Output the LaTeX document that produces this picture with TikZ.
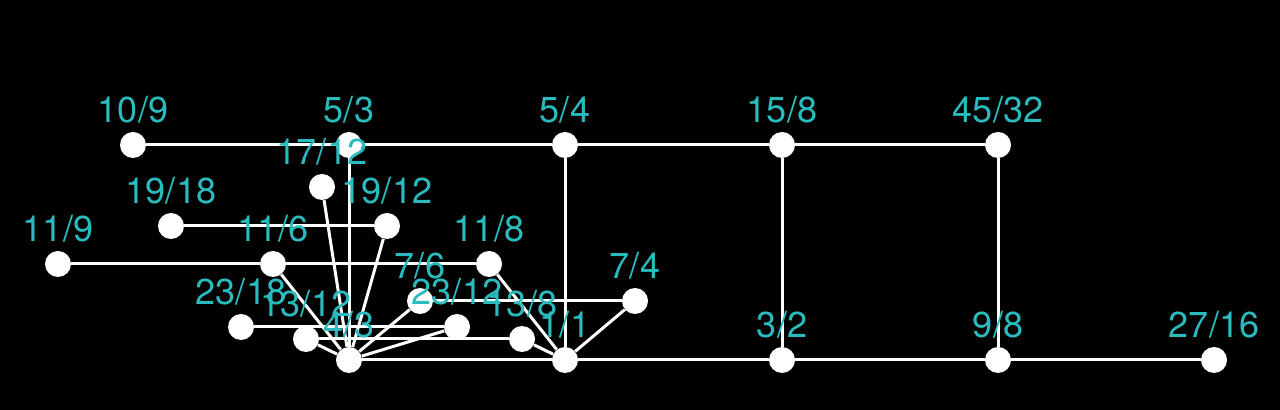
\documentclass[tikz,border=0pt]{standalone}
\usepackage{fontspec}
\setmainfont{TeX Gyre Heros}
\usetikzlibrary{backgrounds}
\definecolor{tone}{RGB}{42,187,190}

\begin{document}
\begin{tikzpicture}[
		ratio/.style={circle, fill=white, inner sep=0pt, minimum size=0.52cm},
		lab/.style={text=tone, inner sep=0pt, font=\fontsize{20.5}{24}\selectfont},
		every label/.style={lab},
		label distance=0.17cm,
		link/.style={draw=white, line width=0.06cm}]
			% lattice of ratios
			\node[ratio, label=above:{10/9}] (n109) at (2.66,5.30) {};
			\node[ratio, label=above:{5/3}] (n53) at (6.98,5.30) {};
			\node[ratio, label=above:{5/4}] (n54) at (11.30,5.30) {};
			\node[ratio, label=above:{15/8}] (n158) at (15.64,5.30) {};
			\node[ratio, label=above:{45/32}] (n4532) at (19.96,5.30) {};
			\node[ratio, label=above:{17/12}] (n1712) at (6.44,4.46) {};
			\node[ratio, label=above:{19/18}] (n1918) at (3.42,3.68) {};
			\node[ratio, label=above:{19/12}] (n1912) at (7.74,3.68) {};
			\node[ratio, label=above:{11/9}] (n119) at (1.16,2.92) {};
			\node[ratio, label=above:{11/6}] (n116) at (5.46,2.92) {};
			\node[ratio, label=above:{11/8}] (n118) at (9.78,2.92) {};
			\node[ratio, label=above:{7/6}] (n76) at (8.40,2.18) {};
			\node[ratio, label=above:{7/4}] (n74) at (12.70,2.18) {};
			\node[ratio, label=above:{23/18}] (n2318) at (4.82,1.66) {};
			\node[ratio, label=above:{23/12}] (n2312) at (9.14,1.66) {};
			\node[ratio, label=above:{13/12}] (n1312) at (6.12,1.42) {};
			\node[ratio, label=above:{13/8}] (n138) at (10.44,1.42) {};
			\node[ratio, label=above:{4/3}] (n43) at (6.98,1.00) {};
			\node[ratio, label=above:{1/1}] (n11) at (11.30,1.00) {};
			\node[ratio, label=above:{3/2}] (n32) at (15.64,1.00) {};
			\node[ratio, label=above:{9/8}] (n98) at (19.96,1.00) {};
			\node[ratio, label=above:{27/16}] (n2716) at (24.28,1.00) {};

			\begin{pgfonlayer}{background}
			\fill[black] (0,0) rectangle (25.6,8.2);
			\draw[link] (n109) -- (n53) -- (n54) -- (n158) -- (n4532);
			\draw[link] (n43) -- (n11) -- (n32) -- (n98) -- (n2716);
			\draw[link] (n54) -- (n11);
			\draw[link] (n158) -- (n32);
			\draw[link] (n4532) -- (n98);
			\draw[link] (n1918) -- (n1912);
			\draw[link] (n119) -- (n116) -- (n118);
			\draw[link] (n76) -- (n74);
			\draw[link] (n2318) -- (n2312);
			\draw[link] (n1312) -- (n138);
			\draw[link] (n43) edge (n53) edge (n1712) edge (n1912) edge (n116)
				edge (n76) edge (n2312) edge (n1312);
			\draw[link] (n11) edge (n118) edge (n138) edge (n74);
			\end{pgfonlayer}
	\end{tikzpicture}
\end{document}
